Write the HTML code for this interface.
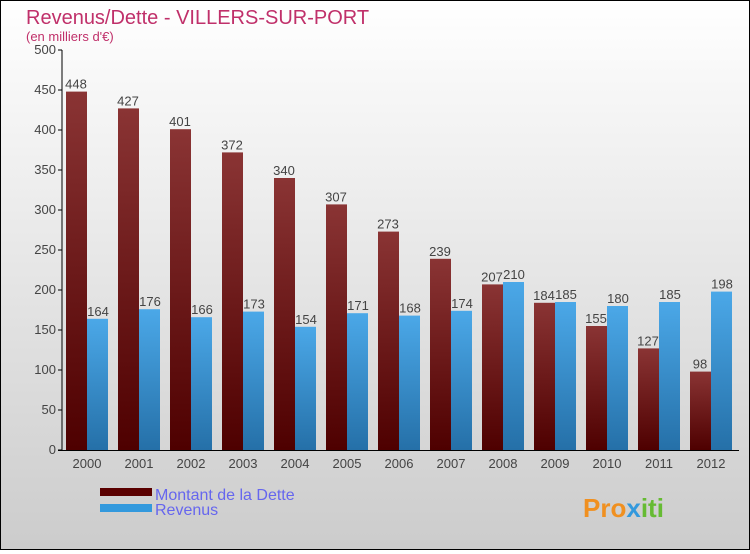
<!DOCTYPE html>
<html><head><meta charset="utf-8"><style>
body{margin:0}
#c{width:748px;height:548px;border:1px solid #000;background:linear-gradient(#fff,#ccc);position:relative;font-family:"Liberation Sans",sans-serif}
</style></head><body>
<div id="c">
<svg id="s" width="748" height="548">
<defs>
<linearGradient id="gd" x1="0" y1="0" x2="0" y2="1"><stop offset="0" stop-color="#8a3434"/><stop offset="1" stop-color="#4e0000"/></linearGradient>
<linearGradient id="gr" x1="0" y1="0" x2="0" y2="1"><stop offset="0" stop-color="#4ba8e8"/><stop offset="1" stop-color="#2570a8"/></linearGradient>
</defs>
<text x="25" y="23" font-size="20" fill="#c0306a">Revenus/Dette - VILLERS-SUR-PORT</text>
<text x="25" y="40" font-size="13" fill="#c0306a">(en milliers d'€)</text>
<g id="g"></g>
<rect x="99" y="487" width="52" height="8" fill="#5a0000"/>
<rect x="99" y="503" width="52" height="8" fill="#3399dd"/>
<text x="154" y="499" font-size="16" fill="#6666ee">Montant de la Dette</text>
<text x="154" y="514" font-size="16" fill="#6666ee">Revenus</text>
<text x="582" y="516" font-size="26" font-weight="bold" fill="#f09020">Pro<tspan fill="#3399dd">x</tspan><tspan fill="#66bb33">iti</tspan></text>
</svg></div>
<script>
const years=["2000","2001","2002","2003","2004","2005","2006","2007","2008","2009","2010","2011","2012"];
const dette=[448,427,401,372,340,307,273,239,207,184,155,127,98];
const revenus=[164,176,166,173,154,171,168,174,210,185,180,185,198];
const ticks=[0,50,100,150,200,250,300,350,400,450,500];
const NS="http://www.w3.org/2000/svg",g=document.getElementById('g');
const y=v=>449-v*0.8, x0=61, gw=52;
function mk(t,a){const e=document.createElementNS(NS,t);for(const k in a)e.setAttribute(k,a[k]);g.appendChild(e);return e;}
ticks.forEach(t=>{
 const l=mk('line',{x1:57,x2:61,y1:y(t),y2:y(t),stroke:'#000'});
 
 
 const tx=mk('text',{x:55,y:y(t)+4,'font-size':13,fill:'#444','text-anchor':'end'});tx.textContent=t;
 
 
});
years.forEach((yr,i)=>{
 const s=x0+i*gw;
 const b1=mk('rect',{x:s+4,y:y(dette[i]),width:21,height:dette[i]*0.8,fill:'url(#gd)'});
 
 
 const b2=mk('rect',{x:s+25,y:y(revenus[i]),width:21,height:revenus[i]*0.8,fill:'url(#gr)'});
 
 
 const t1=mk('text',{x:s+14,y:y(dette[i])-3,'font-size':13,fill:'#444','text-anchor':'middle'});t1.textContent=dette[i];
 
 
 const t2=mk('text',{x:s+36,y:y(revenus[i])-3,'font-size':13,fill:'#444','text-anchor':'middle'});t2.textContent=revenus[i];
 
 
 const tx=mk('text',{x:s+25,y:467,'font-size':13,fill:'#444','text-anchor':'middle'});tx.textContent=yr;
 
 
});
const ax=mk('line',{x1:61,x2:61,y1:49,y2:450,stroke:'#000'});


const bx=mk('line',{x1:57,x2:738,y1:449.5,y2:449.5,stroke:'#000'});


</script>
</body></html>
